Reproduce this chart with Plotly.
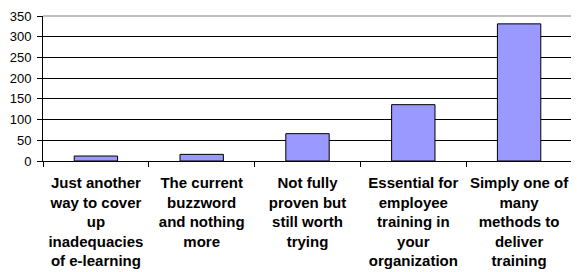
import plotly.graph_objects as go

categories = [
    "Just another<br>way to cover<br>up<br>inadequacies<br>of e-learning",
    "The current<br>buzzword<br>and nothing<br>more",
    "Not fully<br>proven but<br>still worth<br>trying",
    "Essential for<br>employee<br>training in<br>your<br>organization",
    "Simply one of<br>many<br>methods to<br>deliver<br>training",
]
values = [12, 16, 66, 136, 331]
y_ticks = [0, 50, 100, 150, 200, 250, 300, 350]

fig = go.Figure(go.Bar(
    x=categories, y=values,
    marker=dict(color="#9999FF", line=dict(color="black", width=1)),
))

# page body has an 8px default margin, so the figure is offset by (8, 8)
fig.update_layout(
    width=571, height=264,
    margin=dict(l=35, r=7, t=8, b=111),
    paper_bgcolor="white", plot_bgcolor="white",
    bargap=0.59, showlegend=False,
    font=dict(family="Liberation Sans, Arial, sans-serif", color="black", size=13),
)
fig.update_xaxes(
    type="category", tickson="boundaries", ticks="outside", ticklen=5,
    tickcolor="black", showline=True, linecolor="black", linewidth=1,
    showgrid=False, tickangle=0, automargin=False, ticklabelstandoff=8,
    tickfont=dict(family="Liberation Sans, Arial, sans-serif", size=15, color="black", weight="bold"),
)
fig.update_yaxes(
    range=[0, 350], tickvals=y_ticks, ticks="outside", ticklen=5,
    tickcolor="black", showline=True, linecolor="black", linewidth=1,
    showgrid=True, gridcolor="black", gridwidth=1, zeroline=False,
    automargin=False, ticklabelstandoff=3,
    tickfont=dict(size=13, color="black"),
)
fig.add_shape(type="line", xref="paper", yref="paper", x0=0, x1=1, y0=1, y1=1,
              line=dict(color="#808080", width=1), layer="above")
fig.add_shape(type="line", xref="paper", yref="paper", x0=1, x1=1, y0=0, y1=1,
              line=dict(color="#808080", width=1), layer="above")

fig.write_html("out.html")
